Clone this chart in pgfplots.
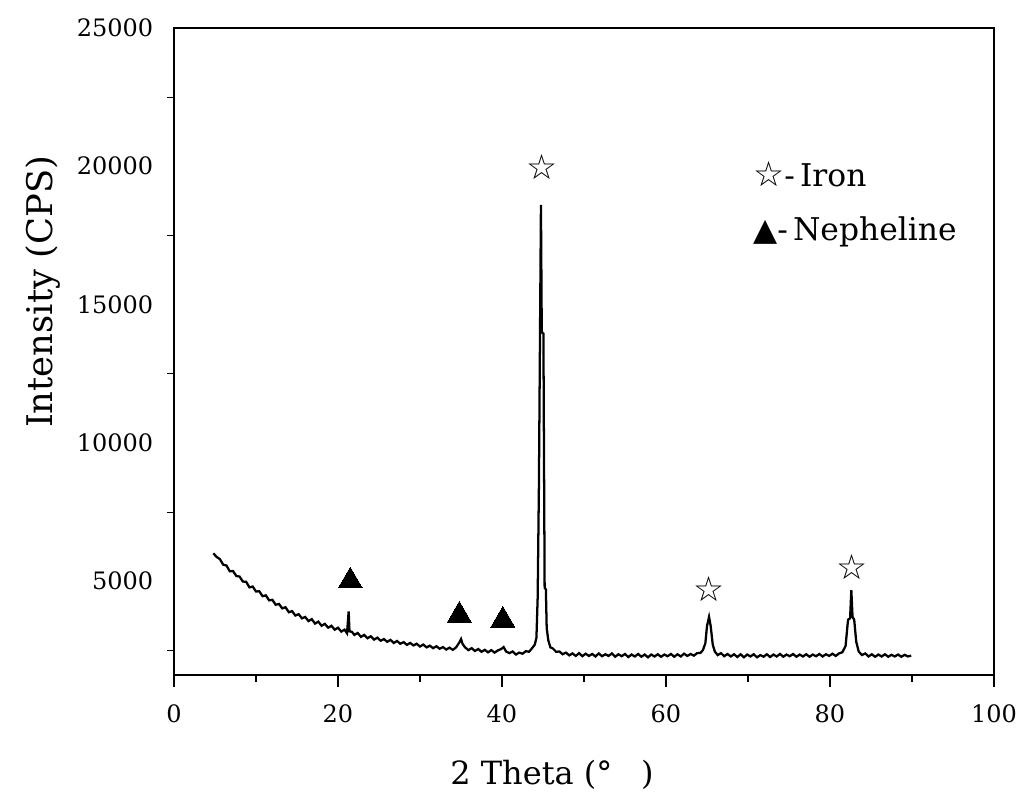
\documentclass[border=0pt]{standalone}
\usepackage{fontspec}
\setmainfont{DejaVu Serif}
\newfontfamily\sym{DejaVu Sans}
\usepackage{pgfplots}
\pgfplotsset{compat=1.18}
\begin{document}
\begin{tikzpicture}
\useasboundingbox (-130.5pt,-101.25pt) rectangle (637.5pt,506.25pt);
\begin{axis}[
  scale only axis, width=615pt, height=485.25pt,
  xmin=0, xmax=100, ymin=1600, ymax=25000,
  axis line style={line width=1.4pt},
  xtick={0,20,...,100}, minor xtick={10,30,...,90},
  ytick={5000,10000,...,25000}, minor ytick={2500,7500,...,22500},
  xtick pos=bottom, ytick pos=left, tick align=outside,
  xtick style={line width=1.4pt, black},
  ytick style={line width=1.2pt, black},
  x tick label style={font=\fontsize{18}{20}\selectfont, yshift=-10pt},
  y tick label style={font=\fontsize{18}{20}\selectfont, xshift=-3pt},
  major tick length=9pt, minor tick length=5pt,
  every y tick/.style={black},
  /pgfplots/major y tick style={/pgfplots/major tick length=0pt},
  /pgf/number format/assume math mode=true,
  /pgf/number format/1000 sep={},
  scaled y ticks=false,
  xlabel={2 Theta (°\hspace{0.9em})},
  ylabel={Intensity (CPS)},
  xlabel style={font=\fontsize{24}{28}\selectfont, at={(axis description cs:0.461,-0.155)}, anchor=center},
  ylabel style={font=\fontsize{26.5}{30}\selectfont, at={(axis description cs:-0.16,0.592)}, anchor=center, rotate=0},
  clip=false,
]
\addplot[black, line width=1.7pt, line join=miter] coordinates {
(4.8,6000) (5.2,5870) (5.6,5790) (6.0,5590) (6.4,5560) (6.8,5350) (7.2,5360) (7.6,5180)
(8.0,5160) (8.4,4980) (8.8,4970) (9.2,4770) (9.6,4800) (10.0,4620) (10.4,4630) (10.8,4450)
(11.2,4480) (11.6,4300) (12.0,4320) (12.4,4140) (12.8,4170) (13.2,4010) (13.6,4050) (14.0,3870)
(14.4,3910) (14.8,3750) (15.2,3800) (15.6,3650) (16.0,3700) (16.4,3550) (16.8,3620) (17.2,3460)
(17.6,3530) (18.0,3380) (18.4,3450) (18.8,3310) (19.2,3380) (19.6,3240) (20.0,3310) (20.4,3170)
(20.8,3240) (21.1,3110) (21.3,3900) (21.4,3180) (21.7,3160) (22.0,3050) (22.4,3120) (22.8,2980)
(23.2,3050) (23.6,2930) (24.0,3000) (24.4,2880) (24.8,2950) (25.2,2840) (25.6,2900) (26.0,2800)
(26.4,2870) (26.8,2760) (27.2,2830) (27.6,2730) (28.0,2790) (28.4,2690) (28.8,2760) (29.2,2670)
(29.6,2730) (30.0,2630) (30.4,2700) (30.8,2600) (31.2,2660) (31.6,2570) (32.0,2640) (32.4,2550)
(32.8,2610) (33.2,2520) (33.6,2590) (34.0,2510) (34.4,2600) (34.8,2780) (35.0,2900) (35.2,2720)
(35.5,2600) (35.9,2500) (36.3,2570) (36.7,2470) (37.1,2540) (37.5,2440) (37.9,2510) (38.3,2420)
(38.7,2500) (39.1,2410) (39.5,2490) (39.9,2540) (40.2,2610) (40.5,2450) (40.9,2390) (41.3,2450)
(41.7,2340) (42.1,2410) (42.5,2370) (42.9,2460) (43.3,2440) (43.7,2580) (44.0,2700) (44.2,2950)
(44.35,4400) (44.5,8400) (44.75,18600) (44.85,14000) (45.05,13950) (45.2,4750) (45.35,4700) (45.45,3300)
(45.65,2850) (45.9,2600) (46.2,2560) (46.6,2440) (47.0,2450) (47.4,2350) (47.8,2410) (48.2,2310)
(48.6,2380) (49.0,2290) (49.4,2390) (49.8,2280) (50.2,2370) (50.6,2290) (51.0,2360) (51.4,2270)
(51.8,2380) (52.2,2280) (52.6,2350) (53.0,2290) (53.4,2380) (53.8,2260) (54.2,2350) (54.6,2280)
(55.0,2360) (55.4,2250) (55.8,2340) (56.2,2270) (56.6,2360) (57.0,2260) (57.4,2340) (57.8,2240)
(58.2,2340) (58.6,2270) (59.0,2350) (59.4,2260) (59.8,2340) (60.2,2280) (60.6,2360) (61.0,2260)
(61.4,2350) (61.8,2270) (62.2,2370) (62.6,2290) (63.0,2360) (63.4,2300) (63.8,2390) (64.2,2400)
(64.5,2500) (64.8,2750) (65.0,3370) (65.25,3700) (65.45,3370) (65.7,2700) (65.95,2450) (66.3,2320)
(66.7,2390) (67.1,2280) (67.5,2360) (67.9,2270) (68.3,2350) (68.7,2250) (69.1,2350) (69.5,2240)
(69.9,2340) (70.3,2270) (70.7,2350) (71.1,2240) (71.5,2320) (71.9,2260) (72.3,2350) (72.7,2250)
(73.1,2340) (73.5,2270) (73.9,2360) (74.3,2260) (74.7,2340) (75.1,2280) (75.5,2360) (75.9,2260)
(76.3,2340) (76.7,2270) (77.1,2350) (77.5,2260) (77.9,2340) (78.3,2280) (78.7,2360) (79.1,2270)
(79.5,2350) (79.9,2290) (80.3,2370) (80.7,2290) (81.1,2380) (81.5,2420) (81.9,2650) (82.2,3600)
(82.45,3650) (82.6,4670) (82.75,3700) (82.95,3600) (83.2,2800) (83.5,2450) (83.9,2320) (84.3,2380)
(84.7,2270) (85.1,2350) (85.5,2260) (85.9,2340) (86.3,2270) (86.7,2350) (87.1,2260) (87.5,2330)
(87.9,2270) (88.3,2340) (88.7,2260) (89.1,2330) (89.5,2270) (89.9,2300)
};
% Nepheline peaks
\addplot[only marks, mark=triangle*, mark size=10.4pt, mark options={black, fill=black, line width=0pt}]
  coordinates {(21.5,5000) (34.8,3761) (40.1,3581)};
% Iron peaks
\addplot[only marks, mark=text, text mark={\sym\fontsize{26}{26}\selectfont ☆}]
  coordinates {(44.9,19964) (65.3,4720) (82.66,5515)};
\node[anchor=base west, font=\fontsize{23.5}{26}\selectfont, inner sep=0pt] at (axis cs:70.6,19277) {{\sym\fontsize{26}{26}\selectfont ☆}-\,Iron};
\node[anchor=base west, font=\fontsize{23.5}{26}\selectfont, inner sep=0pt] at (axis cs:70.6,17324) {{\sym ▲}-\,Nepheline};
\end{axis}
\end{tikzpicture}
\end{document}
